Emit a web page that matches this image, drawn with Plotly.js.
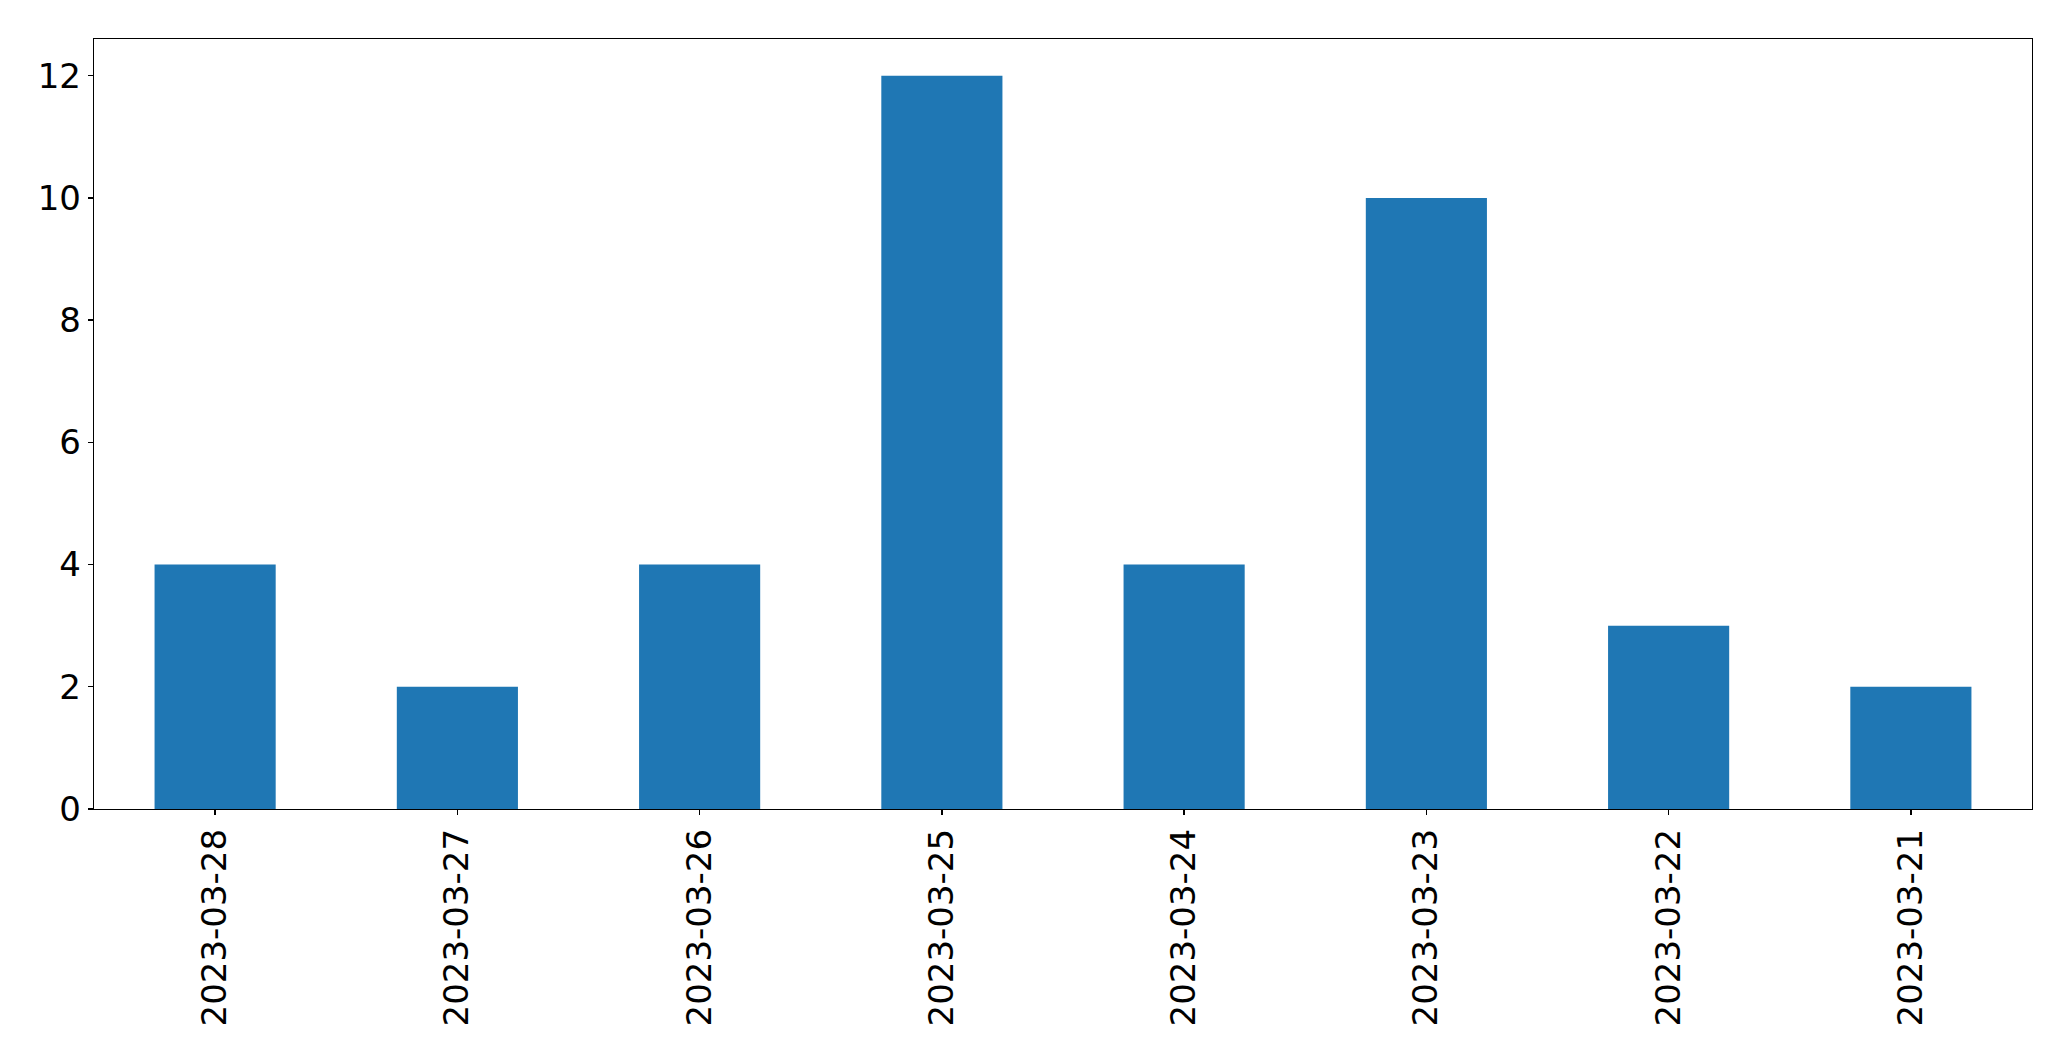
<!DOCTYPE html>
<html>
<head>
<meta charset="utf-8">
<script src="https://cdn.plot.ly/plotly-3.0.1.min.js"></script>
<style>html,body{margin:0;padding:0;background:#fff;}</style>
</head>
<body>
<div id="chart" style="width:2071px;height:1061px;"></div>
<script>
const dates = ["2023-03-28","2023-03-27","2023-03-26","2023-03-25","2023-03-24","2023-03-23","2023-03-22","2023-03-21"];
const counts = [4, 2, 4, 12, 4, 10, 3, 2];
const yTicks = [0, 2, 4, 6, 8, 10, 12];

const trace = {
  type: 'bar',
  x: dates.map((d, i) => i),
  y: counts,
  width: 0.5,
  marker: {color: '#1f77b4', line: {width: 0}},
  hoverinfo: 'x+y'
};

const layout = {
  width: 2071,
  height: 1061,
  margin: {l: 94, r: 39, t: 39, b: 252, pad: 0},
  paper_bgcolor: '#ffffff',
  plot_bgcolor: '#ffffff',
  showlegend: false,
  font: {family: 'DejaVu Sans', size: 34, color: '#000'},
  xaxis: {
    type: 'linear',
    range: [-0.5, 7.5],
    tickmode: 'array',
    tickvals: dates.map((d, i) => i),
    ticktext: dates,
    tickangle: -90,
    ticks: 'outside',
    ticklen: 5,
    tickwidth: 1.3,
    tickcolor: '#000',
    showgrid: false,
    zeroline: false,
    showline: true,
    linecolor: '#000',
    linewidth: 1.3,
    mirror: true,
    tickfont: {family: 'DejaVu Sans', size: 34, color: '#000'}
  },
  yaxis: {
    range: [0, 12.6],
    tickmode: 'array',
    tickvals: yTicks,
    ticktext: yTicks.map(String),
    ticks: 'outside',
    ticklen: 5,
    tickwidth: 1.3,
    tickcolor: '#000',
    showgrid: false,
    zeroline: false,
    showline: true,
    linecolor: '#000',
    linewidth: 1.3,
    mirror: true,
    tickfont: {family: 'DejaVu Sans', size: 34, color: '#000'}
  }
};

Plotly.newPlot('chart', [trace], layout, {displayModeBar: false, staticPlot: true});
</script>
</body>
</html>
